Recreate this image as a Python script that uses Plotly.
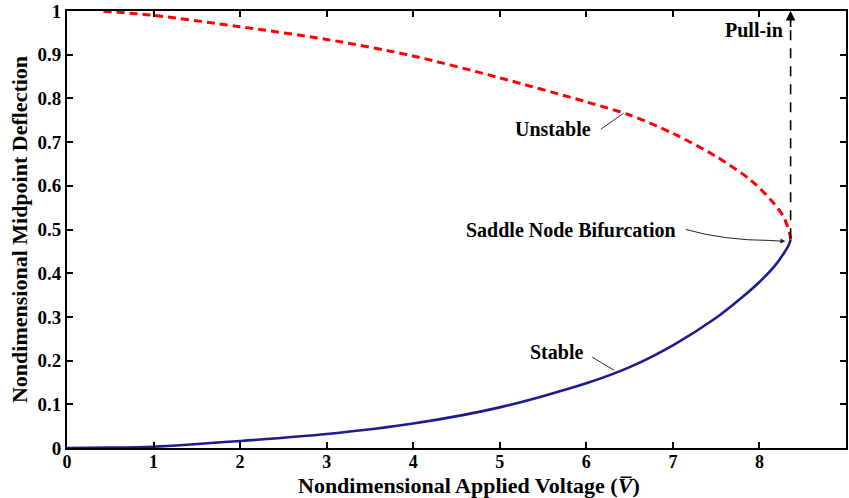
import plotly.graph_objects as go

# Stable branch (nondimensional voltage, midpoint deflection)
stable_v = [0, 0.5, 1, 2, 3, 4, 5, 6, 6.5, 7, 7.5, 7.8, 8, 8.17, 8.28, 8.34, 8.36]
stable_w = [0, 0.0008, 0.003, 0.016, 0.032, 0.056, 0.093, 0.148, 0.185, 0.235, 0.298, 0.345, 0.38, 0.415, 0.445, 0.465, 0.477]

# Unstable branch
unstable_v = [8.36, 8.35, 8.28, 8.13, 7.9, 7.5, 7.0, 6.5, 6.0, 5.0, 4.0, 3.0, 2.0, 1.0, 0.4]
unstable_w = [0.477, 0.49, 0.529, 0.568, 0.613, 0.667, 0.72, 0.762, 0.792, 0.847, 0.897, 0.935, 0.964, 0.99, 1.0]

pull_in_v = 8.36
pull_in_range = [0.48, 1.0]

x_ticks = [0, 1, 2, 3, 4, 5, 6, 7, 8, 9]
y_ticks = [0, 0.1, 0.2, 0.3, 0.4, 0.5, 0.6, 0.7, 0.8, 0.9, 1]
y_ticklabels = ["0", "0.1", "0.2", "0.3", "0.4", "0.5", "0.6", "0.7", "0.8", "0.9", "1"]

FONT = "Liberation Serif"
LBL = 20

fig = go.Figure()
fig.add_trace(go.Scatter(x=unstable_v, y=unstable_w, mode="lines",
                         line=dict(color="#ff0000", width=3, dash="8px,5px", shape="spline", smoothing=0.8),
                         showlegend=False, hoverinfo="skip"))
fig.add_trace(go.Scatter(x=stable_v, y=stable_w, mode="lines",
                         line=dict(color="#1c1c8e", width=2.6, shape="spline", smoothing=0.8),
                         showlegend=False, hoverinfo="skip"))
fig.add_trace(go.Scatter(x=[pull_in_v, pull_in_v], y=[pull_in_range[0], pull_in_range[1] - 0.02], mode="lines",
                         line=dict(color="black", width=1.6, dash="10px,8px"),
                         showlegend=False, hoverinfo="skip"))

annots = []
# Pull-in arrowhead
annots.append(dict(x=pull_in_v, y=1.0, ax=pull_in_v, ay=0.96, xref="x", yref="y", axref="x", ayref="y",
                   showarrow=True, arrowhead=2, arrowsize=1.2, arrowwidth=1.6, arrowcolor="black", text=""))
annots.append(dict(x=8.29, y=0.957, xref="x", yref="y", text="<b>Pull-in</b>", showarrow=False,
                   xanchor="right", yanchor="middle", font=dict(family=FONT, size=LBL, color="black")))
# Unstable label
annots.append(dict(x=6.43, y=0.766, ax=6.15, ay=0.727, xref="x", yref="y", axref="x", ayref="y",
                   showarrow=True, arrowhead=0, arrowwidth=1, arrowcolor="#333333", text=""))
annots.append(dict(x=6.08, y=0.73, xref="x", yref="y", text="<b>Unstable</b>", showarrow=False,
                   xanchor="right", yanchor="middle", font=dict(family=FONT, size=LBL, color="black")))
# Stable label
annots.append(dict(x=6.32, y=0.178, ax=6.05, ay=0.21, xref="x", yref="y", axref="x", ayref="y",
                   showarrow=True, arrowhead=0, arrowwidth=1, arrowcolor="#333333", text=""))
annots.append(dict(x=5.99, y=0.22, xref="x", yref="y", text="<b>Stable</b>", showarrow=False,
                   xanchor="right", yanchor="middle", font=dict(family=FONT, size=LBL, color="black")))
# Saddle node label
annots.append(dict(x=7.06, y=0.5, xref="x", yref="y", text="<b>Saddle Node Bifurcation</b>", showarrow=False,
                   xanchor="right", yanchor="middle", font=dict(family=FONT, size=LBL, color="black")))
annots.append(dict(x=8.3, y=0.473, ax=8.1, ay=0.475, xref="x", yref="y", axref="x", ayref="y",
                   showarrow=True, arrowhead=2, arrowsize=1, arrowwidth=1, arrowcolor="#222222", text=""))
# X axis title
annots.append(dict(x=0.516, y=0, xref="paper", yref="paper", yshift=-37,
                   text="<b>Nondimensional Applied Voltage (<i>V\u0305</i>)</b>", showarrow=False,
                   xanchor="center", yanchor="middle", font=dict(family=FONT, size=22, color="black")))

shapes = [dict(type="path", xref="x", yref="y",
               path="M 7.15,0.5 Q 7.6,0.475 8.12,0.475",
               line=dict(color="#222222", width=1))]

fig.update_layout(
    width=849, height=498,
    margin=dict(l=67, r=1, t=11, b=50),
    paper_bgcolor="white", plot_bgcolor="white",
    font=dict(family=FONT, size=19, color="black"),
    annotations=annots, shapes=shapes,
    xaxis=dict(range=[0, 9], tickvals=x_ticks, ticktext=[f"<b>{t}</b>" for t in x_ticks],
               ticks="inside", ticklen=6, tickwidth=2, tickcolor="black", ticklabelstandoff=-4,
               showline=True, linecolor="black", linewidth=2, mirror="ticks", showgrid=False, zeroline=False,
               tickfont=dict(family=FONT, size=18, color="black")),
    yaxis=dict(range=[0, 1], tickvals=y_ticks, ticktext=[f"<b>{t}</b>" for t in y_ticklabels],
               ticks="inside", ticklen=6, tickwidth=2, tickcolor="black",
               showline=True, linecolor="black", linewidth=2, mirror="ticks", showgrid=False, zeroline=False,
               tickfont=dict(family=FONT, size=19, color="black"),
               title=dict(text="<b>Nondimensional Midpoint Deflection</b>", standoff=4,
                          font=dict(family=FONT, size=22, color="black"))),
)

fig.write_html("out.html")
